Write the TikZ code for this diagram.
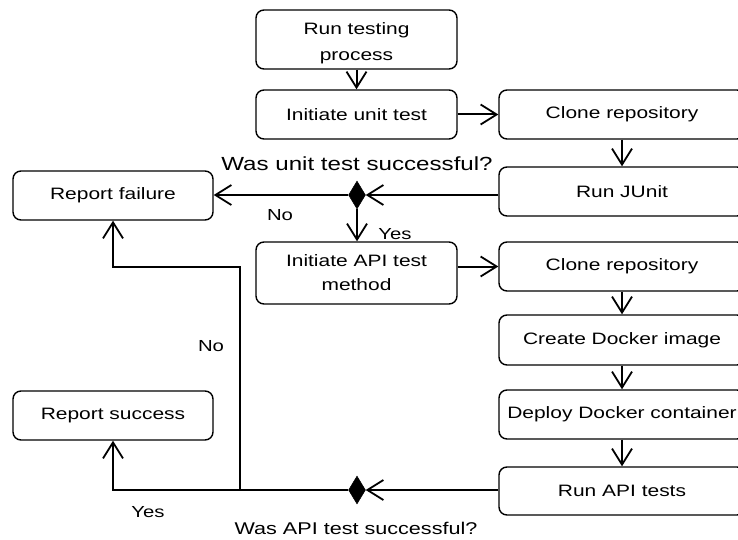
\documentclass[tikz,border=0pt]{standalone}
\usepackage{fontspec}
\setmainfont{Liberation Sans}[FakeStretch=1.27]
\usetikzlibrary{arrows.meta,shapes.geometric,calc}
\begin{document}
\begin{tikzpicture}[x=1pt,y=-1pt,
  box/.style={draw, rounded corners=8pt, line width=1.4pt, inner sep=0pt, align=center,
    font=\fontsize{16.5}{26}\selectfont},
  lbox/.style={box, minimum width=201pt},
  rbox/.style={box, minimum width=246pt, minimum height=49pt},
  fbox/.style={box, minimum width=200pt, minimum height=49pt},
  conn/.style={line width=2pt, -{Straight Barb[length=16pt,width=20pt,line width=1.8pt]}},
  dec/.style={diamond, fill=black, draw=black, inner sep=0pt, minimum width=17pt, minimum height=28pt},
  lab/.style={inner sep=0pt, font=\fontsize{16}{18}\selectfont},
  qlab/.style={inner sep=0pt}
]
\useasboundingbox (0,0) rectangle (738,540);
% boxes
\node[lbox, minimum height=59pt] (run) at (356.5,39.5) {\raisebox{-7pt}[0pt][0pt]{\begin{tabular}{@{}c@{}}Run testing\\process\end{tabular}}};
\node[lbox, minimum height=49pt] (unit) at (356.5,114.5) {Initiate unit test};
\node[rbox] (clone1) at (622,114.5) {Clone repository};
\node[rbox] (junit) at (622,191.5) {Run JUnit};
\node[fbox] (fail) at (113,195.5) {Report failure};
\node[lbox, minimum height=62pt] (api) at (356.5,273) {\raisebox{-2pt}{\begin{tabular}{@{}c@{}}Initiate API test\\[-2pt]method\end{tabular}}};
\node[rbox] (clone2) at (622,266.5) {Clone repository};
\node[rbox, minimum height=50pt] (docker) at (622,340) {Create Docker image};
\node[rbox] (deploy) at (622,414.5) {Deploy Docker container};
\node[rbox, minimum height=48pt] (runapi) at (622,491) {Run API tests};
\node[fbox] (succ) at (113,415.5) {Report success};
% decisions
\node[dec] (d1) at (357,195) {};
\node[dec] (d2) at (357,490) {};
% labels
\node[qlab, font=\fontsize{19}{21}\selectfont] (q1) at (357,164) {Was unit test successful?};
\node[qlab, font=\fontsize{17}{19}\selectfont] (q2) at (356,528) {Was API test successful?};
\node[lab] (no1) at (280,215) {No};
\node[lab] (yes1) at (395,234) {Yes};
\node[lab] (no2) at (211,346) {No};
\node[lab] (yes2) at (148,512) {Yes};
% connectors
\draw[conn] (run) -- (unit);
\draw[conn] (unit) -- (clone1);
\draw[conn] (clone1) -- (junit);
\draw[conn] (junit.west |- d1) -- (d1.east);
\draw[conn] (d1.west) -- (fail.east |- d1);
\draw[conn] (d1.south) -- (d1.south |- api.north);
\draw[conn] (api.east |- clone2) -- (clone2.west);
\draw[conn] (clone2) -- (docker);
\draw[conn] (docker) -- (deploy);
\draw[conn] (deploy) -- (runapi);
\draw[conn] (runapi.west |- d2) -- (d2.east);
\draw[conn] (d2.west) -| (succ.south);
\coordinate (j) at (240,490);
\coordinate (k) at (240,267);
\draw[conn] (j) -- (k) -| (fail.south);
\end{tikzpicture}
\end{document}
